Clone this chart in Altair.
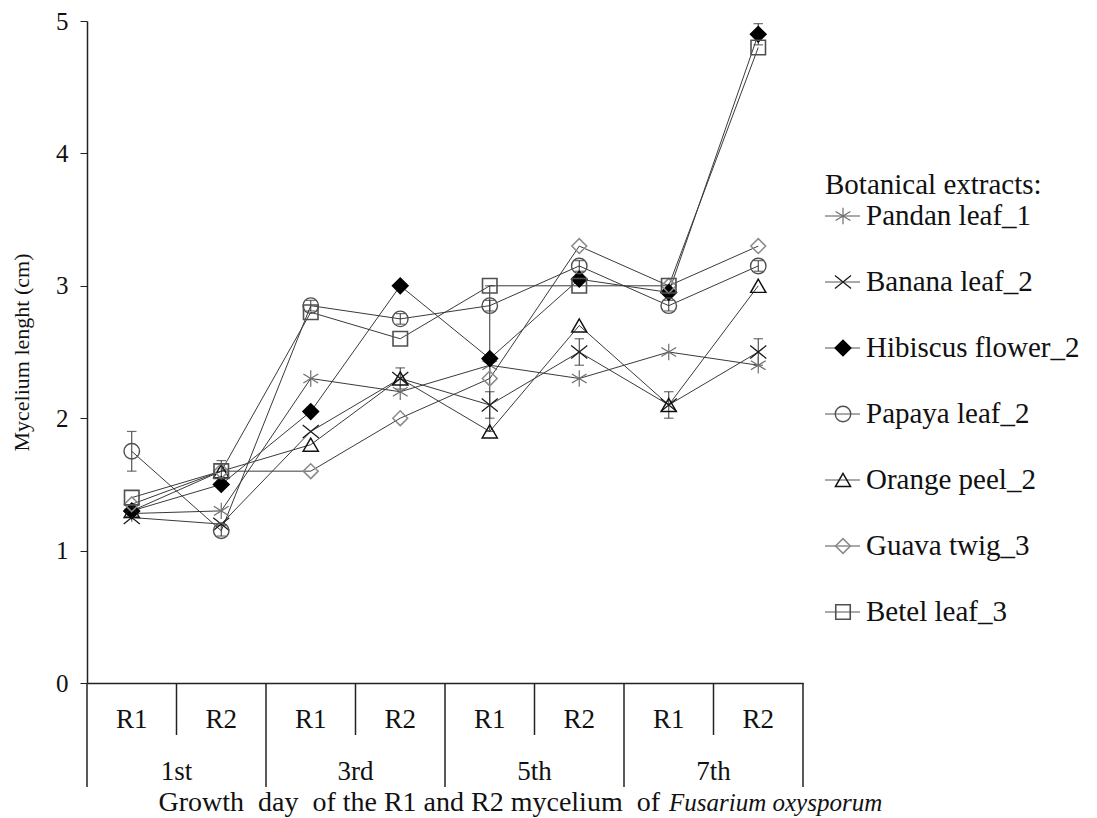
import altair as alt
import pandas as pd

# ---------------- data ----------------
days = ["1st", "3rd", "5th", "7th"]
reps = ["R1", "R2"]
series = ["Pandan leaf_1", "Banana leaf_2", "Hibiscus flower_2", "Papaya leaf_2",
          "Orange peel_2", "Guava twig_3", "Betel leaf_3"]

pandan   = [1.28, 1.30, 2.30, 2.20, 2.40, 2.30, 2.50, 2.40]
banana   = [1.25, 1.20, 1.90, 2.30, 2.10, 2.50, 2.10, 2.50]
hibiscus = [1.30, 1.50, 2.05, 3.00, 2.45, 3.05, 2.95, 4.90]
papaya   = [1.75, 1.15, 2.85, 2.75, 2.85, 3.15, 2.85, 3.15]
orange   = [1.30, 1.60, 1.80, 2.30, 1.90, 2.70, 2.10, 3.00]
guava    = [1.35, 1.60, 1.60, 2.00, 2.30, 3.30, 3.00, 3.30]
betel    = [1.40, 1.60, 2.80, 2.60, 3.00, 3.00, 3.00, 4.80]
values = [pandan, banana, hibiscus, papaya, orange, guava, betel]

# error bars: series, group index (0..7), half-width
err_series = ["Papaya leaf_2", "Orange peel_2", "Banana leaf_2", "Hibiscus flower_2",
              "Banana leaf_2", "Banana leaf_2", "Banana leaf_2", "Banana leaf_2",
              "Hibiscus flower_2",
              "Papaya leaf_2", "Papaya leaf_2", "Papaya leaf_2", "Papaya leaf_2",
              "Papaya leaf_2", "Papaya leaf_2", "Papaya leaf_2"]
err_group = [0, 1, 3, 4, 4, 5, 6, 7, 7, 1, 2, 3, 4, 5, 6, 7]
err_size = [0.15, 0.08, 0.08, 0.55, 0.10, 0.10, 0.10, 0.10, 0.08,
            0.04, 0.04, 0.04, 0.04, 0.04, 0.04, 0.04]

# ---------------- tables ----------------
rows = []
for s, vals in zip(series, values):
    for i, v in enumerate(vals):
        rows.append({"series": s, "pos": i + 0.5, "value": v})
df = pd.DataFrame(rows)

erows = []
for s, g, e in zip(err_series, err_group, err_size):
    v = values[series.index(s)][g]
    erows.append({"series": s, "pos": g + 0.5, "lo": v - e, "hi": v + e})
edf = pd.DataFrame(erows)

sub_df = pd.DataFrame({"label": [r for _ in days for r in reps],
                       "pos": [i + 0.5 for i in range(len(days) * len(reps))]})
day_df = pd.DataFrame({"label": days, "pos": [2 * i + 1 for i in range(len(days))]})
short_df = pd.DataFrame({"pos": [2 * i + 1 for i in range(len(days))]})
long_df = pd.DataFrame({"pos": [2 * i for i in range(len(days) + 1)]})
leg_df = pd.DataFrame({"series": series, "idx": list(range(len(series)))})

# ---------------- styling ----------------
FONT = "Liberation Serif, DejaVu Serif, serif"
W, H = 716, 662
ASTERISK = "M0,-1L0,1M-0.9,-0.55L0.9,0.55M-0.9,0.55L0.9,-0.55"
XMARK = "M-1,-0.8L1,0.8M-1,0.8L1,-0.8"
CAP = "M-1,0L1,0"

shape_scale = alt.Scale(domain=series, range=[ASTERISK, XMARK, "diamond", "circle",
                                              "triangle-up", "diamond", "square"])
stroke_scale = alt.Scale(domain=series, range=["#6e6e6e", "#1a1a1a", "#000000", "#505050",
                                               "#111111", "#8a8a8a", "#505050"])
fill_scale = alt.Scale(domain=series, range=["transparent", "transparent", "#000000",
                                             "transparent", "transparent", "transparent",
                                             "transparent"])
sw_scale = alt.Scale(domain=series, range=[1.2, 1.6, 1, 1.2, 2.0, 1.0, 1.3])
size_scale = alt.Scale(domain=series, range=[270, 210, 240, 210, 220, 200, 210])

xs = alt.Scale(domain=[0, 8], nice=False, zero=False)
ys = alt.Scale(domain=[0, 5], nice=False)

XAX = alt.Axis(labels=False, ticks=False, grid=False, title=None,
               domainColor="#222", domainWidth=1.5)
YAX = alt.Axis(values=[0, 1, 2, 3, 4, 5], grid=False, tickSize=7,
               tickColor="#222", domainColor="#222", domainWidth=1.5,
               labelFont=FONT, labelFontSize=25, labelColor="#111",
               labelPadding=12, title="Mycelium lenght (cm)",
               titleFont=FONT, titleFontSize=22, titleFontWeight="normal",
               titleColor="#111", titlePadding=22)

X = alt.X("pos:Q", scale=xs, axis=XAX)

lines = alt.Chart(df).mark_line(color="#3a3a3a", strokeWidth=1).encode(
    x=X, y=alt.Y("value:Q", scale=ys, axis=YAX), detail="series:N")

err_rule = alt.Chart(edf).mark_rule(color="#333", strokeWidth=1).encode(
    x=X, y=alt.Y("lo:Q", scale=ys, axis=YAX), y2="hi:Q")
cap_lo = alt.Chart(edf).mark_point(shape=CAP, size=90, color="#333", strokeWidth=1.2).encode(
    x=X, y=alt.Y("lo:Q", scale=ys, axis=YAX))
cap_hi = alt.Chart(edf).mark_point(shape=CAP, size=90, color="#333", strokeWidth=1.2).encode(
    x=X, y=alt.Y("hi:Q", scale=ys, axis=YAX))

points = alt.Chart(df).mark_point(opacity=1, fillOpacity=1).encode(
    x=X, y=alt.Y("value:Q", scale=ys, axis=YAX),
    shape=alt.Shape("series:N", scale=shape_scale, legend=None),
    stroke=alt.Stroke("series:N", scale=stroke_scale, legend=None),
    fill=alt.Fill("series:N", scale=fill_scale, legend=None),
    strokeWidth=alt.StrokeWidth("series:N", scale=sw_scale, legend=None),
    size=alt.Size("series:N", scale=size_scale, legend=None))

# category axis below the plot
short_sep = alt.Chart(short_df).mark_rule(color="#222", strokeWidth=1.5).encode(
    x=X, y=alt.value(H), y2=alt.value(H + 52))
long_sep = alt.Chart(long_df).mark_rule(color="#222", strokeWidth=1.5).encode(
    x=X, y=alt.value(H), y2=alt.value(H + 104))
sub_text = alt.Chart(sub_df).mark_text(font=FONT, fontSize=27, color="#111",
                                       baseline="middle").encode(
    x=X, y=alt.value(H + 37), text="label:N")
day_text = alt.Chart(day_df).mark_text(font=FONT, fontSize=27, color="#111",
                                       baseline="middle").encode(
    x=X, y=alt.value(H + 89), text="label:N")
NB = "\u00a0"
title_a = alt.Chart(pd.DataFrame(
    {"t": [f"Growth {NB}day {NB}of the R1 and R2 mycelium {NB}of"]})).mark_text(
    font=FONT, fontSize=28, color="#111", align="right", baseline="middle").encode(
    x=alt.value(573), y=alt.value(H + 120), text="t:N")
title_b = alt.Chart(pd.DataFrame({"t": ["Fusarium oxysporum"]})).mark_text(
    font=FONT, fontSize=25, color="#111", align="left", baseline="middle",
    fontStyle="italic").encode(
    x=alt.value(582), y=alt.value(H + 120), text="t:N")

main = alt.layer(lines, err_rule, cap_lo, cap_hi, points, short_sep, long_sep,
                 sub_text, day_text, title_a, title_b)

# custom legend
LY = alt.Y("idx:Q", scale=alt.Scale(domain=[0, len(series) - 1], range=[195, 591],
                                    nice=False, zero=False), axis=None)
leg_rule = alt.Chart(leg_df).mark_rule(color="#555", strokeWidth=1).encode(
    y=LY, x=alt.value(738), x2=alt.value(773))
leg_pts = alt.Chart(leg_df).mark_point(opacity=1, fillOpacity=1).encode(
    y=LY, x=alt.value(756),
    shape=alt.Shape("series:N", scale=shape_scale, legend=None),
    stroke=alt.Stroke("series:N", scale=stroke_scale, legend=None),
    fill=alt.Fill("series:N", scale=fill_scale, legend=None),
    strokeWidth=alt.StrokeWidth("series:N", scale=sw_scale, legend=None),
    size=alt.Size("series:N", scale=size_scale, legend=None))
leg_txt = alt.Chart(leg_df).mark_text(font=FONT, fontSize=29, color="#111",
                                      align="left", baseline="middle").encode(
    y=LY, x=alt.value(779), text="series:N")
leg_title = alt.Chart(pd.DataFrame({"t": ["Botanical extracts:"]})).mark_text(
    font=FONT, fontSize=29, color="#111", align="left", baseline="middle").encode(
    x=alt.value(738), y=alt.value(164), text="t:N")
legend = alt.layer(leg_rule, leg_pts, leg_txt, leg_title)

chart = alt.layer(main, legend).resolve_scale(y="independent").properties(
    width=W, height=H,
    autosize=alt.AutoSizeParams(type="none"),
    padding={"left": 79, "top": 13, "right": 286, "bottom": 140},
    background="white",
).configure_view(stroke=None)

chart.save("out.html", embed_options={"renderer": "svg", "actions": False})
